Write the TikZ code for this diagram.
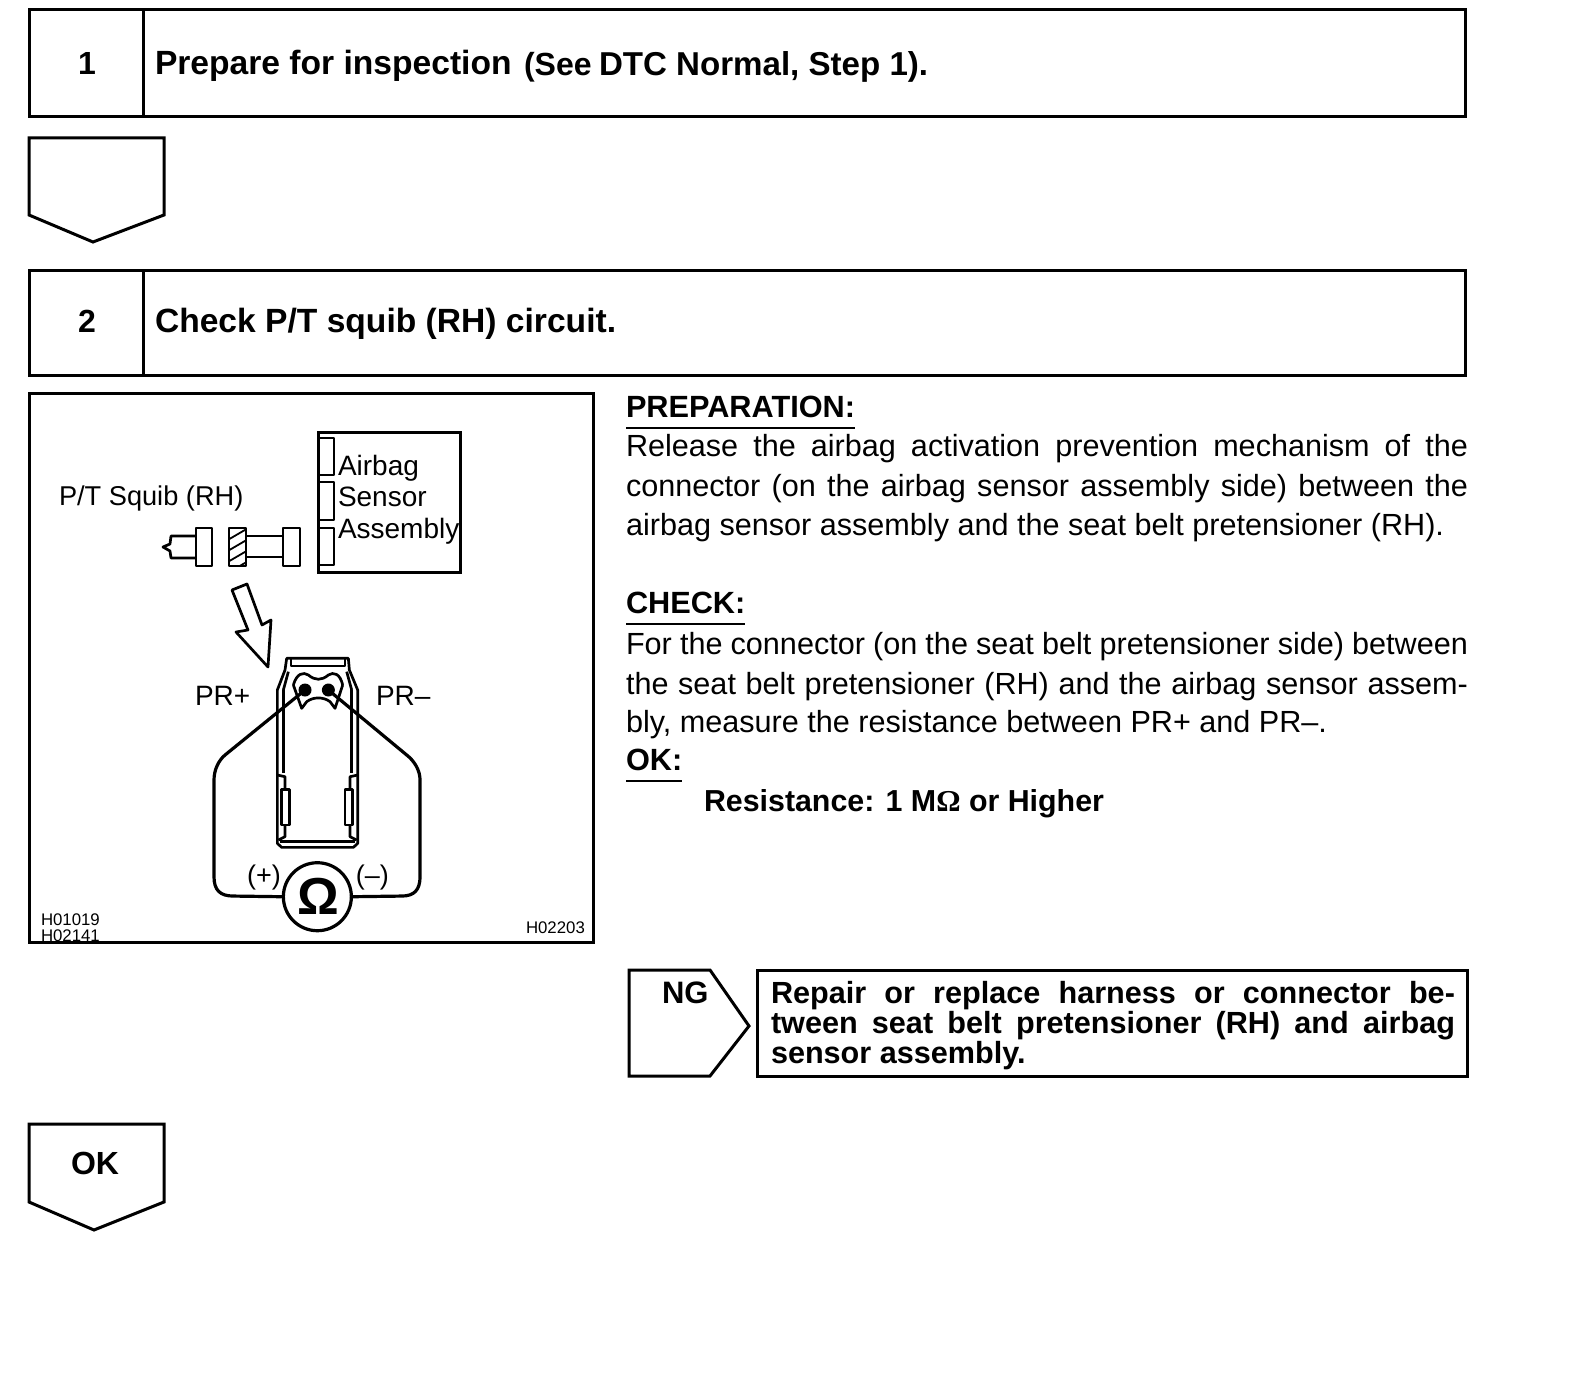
\documentclass[tikz,border=0pt]{standalone}
\usepackage{fontspec}
\setmainfont{Liberation Sans}
\newfontfamily\omfont{Liberation Serif}
\newcommand{\fs}[1]{\fontsize{#1}{#1}\selectfont}
\tikzset{
  frame/.style={draw=black,line width=1.5pt,line join=miter},
  thin part/.style={draw=black,line width=1.35pt,line join=round},
  txt/.style={anchor=base west,inner sep=0pt,outer sep=0pt,text=black},
  ctxt/.style={anchor=base,inner sep=0pt,outer sep=0pt,text=black},
  body/.style={txt,font=\fs{15.3}},
  bodyb/.style={txt,font=\fs{15.3}\bfseries},
  head/.style={txt,font=\fs{15.35}\bfseries},
  figt/.style={txt,font=\fs{14}},
  tiny/.style={txt,font=\fs{8.4}},
  wire/.style={draw=black,line width=1.6pt,line join=round},
  rule/.style={draw=black,line width=0.8pt}
}
\newcommand{\js}[2]{\makebox[#1][s]{#2}}
\begin{document}
\begin{tikzpicture}[x=0.5pt,y=-0.5pt]
\useasboundingbox (0,0) rectangle (1584,1374);
\fill[white] (0,0) rectangle (1584,1374);
% step boxes
\draw[frame] (29,10) rectangle (1465,117);
\draw[frame] (143,10) -- (143,117);
\node[ctxt,font=\fs{16}\bfseries] (n1) at (87,75) {1};
\node[txt,font=\fs{16.8}\bfseries] (s1a) at (155,75) {Prepare for inspection};
\node[txt,font=\fs{16}\bfseries] (s1b) at (524,76) {(See};
\node[txt,font=\fs{16.55}\bfseries] (s1c) at (599,76) {DTC Normal, Step 1).};
\draw[frame] (29,138) -- (164,138) -- (164,215) -- (93,242) -- (29,215) -- cycle;
\draw[frame] (29,271) rectangle (1465,376);
\draw[frame] (143,271) -- (143,376);
\node[ctxt,font=\fs{16}\bfseries] (n2) at (87,333) {2};
\node[txt,font=\fs{16.8}\bfseries] (s2) at (155,333) {Check P/T squib (RH) circuit.};
% figure frame
\draw[frame] (29,394) rectangle (593,942);
\draw[frame] (318,432) rectangle (460,572);
\draw[thin part] (318,438) rectangle (334,475);
\draw[thin part] (318,482) rectangle (334,520);
\draw[thin part] (318,528) rectangle (334,565);
\node[figt] (t1) at (338,475) {Airbag};
\node[figt] (t2) at (338,506) {Sensor};
\node[figt] (t3) at (338,538) {Assembly};
\node[figt,font=\fs{13.6}] (t4) at (59,505) {P/T Squib (RH)};
% connectors
\draw[thin part] (196,536) -- (171,536) -- (170,544) -- (163,547) -- (170,551) -- (171,558) -- (196,558);
\draw[thin part] (196,528) rectangle (212,566);
\begin{scope}
\clip (229,528) rectangle (246,566);
\foreach \yy in {530,541,552,563,574}
  \draw[black,line width=0.9pt] (226,\yy) -- (250,\yy-14);
\end{scope}
\draw[thin part] (229,528) rectangle (246,566);
\draw[thin part] (246,536) -- (283,536);
\draw[thin part] (246,557) -- (283,557);
\draw[thin part] (283,528) rectangle (300,566);
\draw[thin part] (232,590) -- (247,584) -- (262,625) -- (271,620) -- (268,667) -- (236,632) -- (248,630) -- cycle;
% car
\begin{scope}[shift={(190,640)},x=0.1667pt,y=-0.1667pt]
\draw[thin part] (290,55) -- (285,90) -- (262,150) -- (262,610) -- (275,622) -- (490,622) -- (503,610) -- (503,150) -- (478,90) -- (475,55) -- cycle;
\draw[thin part] (303,58) -- (303,78) -- (465,78) -- (465,58);
\draw[thin part] (280,150) -- (295,95);
\draw[thin part] (485,150) -- (470,95);
\draw[thin part] (280,150) -- (280,400);
\draw[thin part] (485,150) -- (485,400);
\draw[thin part] (262,405) -- (285,410) -- (285,448);
\draw[thin part] (503,405) -- (480,410) -- (480,448);
\draw[thin part] (275,448) rectangle (298,555);
\draw[thin part] (465,448) rectangle (488,555);
\draw[thin part] (285,555) -- (285,590) -- (265,600);
\draw[thin part] (480,555) -- (480,590) -- (500,600);
\draw[thin part] (270,605) -- (495,605);
\draw[thin part] (310,135) .. controls (320,100) and (340,95) .. (355,105) .. controls (375,122) and (395,122) .. (415,105) .. controls (430,95) and (450,100) .. (458,135);
\draw[thin part] (310,135) -- (335,205) -- (350,185) .. controls (370,170) and (400,170) .. (420,185) -- (435,205) -- (458,135);
\node[circle,fill=black,minimum size=6.5pt,inner sep=0pt] (dp) at (345,150) {};
\node[circle,fill=black,minimum size=6.5pt,inner sep=0pt] (dm) at (415,150) {};
\node[circle,draw=black,line width=1.6pt,minimum size=34pt,inner sep=0pt] (meter) at (382,770) {};
\node[inner sep=0pt,font=\fs{26}\bfseries] (omega) at (384,768) {Ω};
\coordinate (wl1) at (105,345);
\coordinate (wl1a) at (85,362);
\coordinate (wl1b) at (72,390);
\coordinate (wl2) at (72,420);
\coordinate (wl3) at (72,710);
\coordinate (wl3a) at (72,750);
\coordinate (wl3b) at (90,768);
\coordinate (wl4) at (130,768);
\coordinate (wr1) at (650,345);
\coordinate (wr1a) at (672,362);
\coordinate (wr1b) at (690,390);
\coordinate (wr2) at (690,420);
\coordinate (wr3) at (690,710);
\coordinate (wr3a) at (690,750);
\coordinate (wr3b) at (672,768);
\coordinate (wr4) at (635,768);
\draw[wire] (dp.center) -- (wl1) .. controls (wl1a) and (wl1b) .. (wl2) -- (wl3) .. controls (wl3a) and (wl3b) .. (wl4) -- (meter.west);
\draw[wire] (dm.center) -- (wr1) .. controls (wr1a) and (wr1b) .. (wr2) -- (wr3) .. controls (wr3a) and (wr3b) .. (wr4) -- (meter.east);
\node[txt,font=\fs{14}] (pp) at (15,195) {PR+};
\node[txt,font=\fs{14}] (pm) at (558,195) {PR–};
\node[inner sep=0pt,font=\fs{13.5}] (mp) at (222,712) {(+)};
\node[inner sep=0pt,font=\fs{13.5}] (mm) at (547,712) {(–)};
\end{scope}
\node[tiny] (h1) at (41,925) {H01019};
\begin{scope}
\clip (29,394) rectangle (593,941);
\node[tiny] (h2) at (41,941) {H02141};
\end{scope}
\node[tiny] (h3) at (526,933) {H02203};
% right text
\node[head] (prep) at (626,417) {PREPARATION:};
\draw[rule] (prep.base west |- 0,428) -- (prep.base east |- 0,428);
\node[body] (b1) at (626,457) {\js{421pt}{Release the airbag activation prevention mechanism of the}};
\node[body] (b2) at (626,496) {\js{421pt}{connector (on the airbag sensor assembly side) between the}};
\node[body] (b3) at (626,535) {airbag sensor assembly and the seat belt pretensioner (RH).};
\node[head] (check) at (626,613) {CHECK:};
\draw[rule] (check.base west |- 0,624) -- (check.base east |- 0,624);
\node[body] (c1) at (626,654) {\js{421pt}{For the connector (on the seat belt pretensioner side) between}};
\node[body] (c2) at (626,694) {\js{421pt}{the seat belt pretensioner (RH) and the airbag sensor assem-}};
\node[body] (c3) at (626,732) {bly, measure the resistance between PR+ and PR–.};
\node[head] (ok) at (626,770) {OK:};
\draw[rule] (ok.base west |- 0,781) -- (ok.base east |- 0,781);
\node[bodyb,font=\fs{15.18}\bfseries] (res) at (704,811) {Resistance: 1 M{\omfont Ω} or Higher};
% NG
\draw[frame] (629,970) -- (710,970) -- (749,1026) -- (710,1076) -- (629,1076) -- cycle;
\node[txt,font=\fs{15.5}\bfseries] (ng) at (662,1003) {NG};
\draw[frame] (757,970) rectangle (1467,1076);
\node[bodyb] (r1) at (771,1003) {\js{342pt}{Repair or replace harness or connector be-}};
\node[bodyb] (r2) at (771,1033) {\js{342pt}{tween seat belt pretensioner (RH) and airbag}};
\node[bodyb] (r3) at (771,1063) {sensor assembly.};
% OK
\draw[frame] (29,1124) -- (164,1124) -- (164,1202) -- (94,1230) -- (29,1202) -- cycle;
\node[ctxt,font=\fs{16}\bfseries] (okb) at (95,1174) {OK};
\end{tikzpicture}
\end{document}
